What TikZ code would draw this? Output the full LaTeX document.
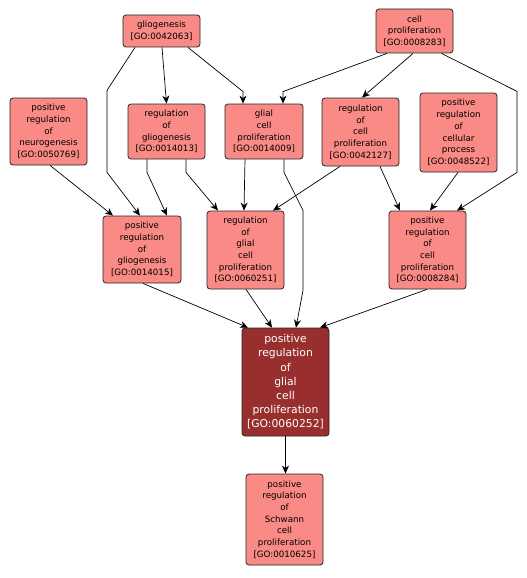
\documentclass[tikz,border=0pt]{standalone}
\usepackage{fontspec}
\setmainfont{DejaVu Sans}
\usetikzlibrary{arrows.meta,calc}
\definecolor{gofill}{RGB}{250,138,133}
\definecolor{gomain}{RGB}{153,46,46}
\begin{document}
\begin{tikzpicture}[x=1pt,y=-1pt,
  gonode/.style={draw=black!85,fill=gofill,rounded corners=3pt,inner sep=0pt,align=center,
    font=\fontsize{8.7}{11.7}\selectfont,line width=0.8pt},
  mainnode/.style={gonode,fill=gomain,text=white,font=\fontsize{10.8}{14.2}\selectfont},
  edge/.style={draw=black,line width=0.7pt,-{Stealth[length=8pt,width=7pt,inset=2.5pt]}}]
\useasboundingbox[fill=white] (0,0) rectangle (527,578);
\newcommand{\gnode}[6]{\node[#1,minimum width=#4pt,minimum height=#5pt] (#2) at (#3) {#6};}
\gnode{gonode}{glio}{161.5,31}{77}{32}{gliogenesis\\{[GO:0042063]}}
\gnode{gonode}{neuro}{48.5,131.5}{77}{67}{positive\\regulation\\of\\neurogenesis\\{[GO:0050769]}}
\gnode{gonode}{reggl}{166.5,131.5}{77}{55}{regulation\\of\\gliogenesis\\{[GO:0014013]}}
\gnode{gonode}{gcp}{264,131.5}{78}{55}{glial\\cell\\proliferation\\{[GO:0014009]}}
\gnode{gonode}{cp}{414.5,31}{77}{44}{cell\\proliferation\\{[GO:0008283]}}
\gnode{gonode}{rcp}{360.5,132}{77}{68}{regulation\\of\\cell\\proliferation\\{[GO:0042127]}}
\gnode{gonode}{prcpr}{458.5,132.5}{77}{79}{positive\\regulation\\of\\cellular\\process\\{[GO:0048522]}}
\gnode{gonode}{prgl}{142,249.5}{78}{67}{positive\\regulation\\of\\gliogenesis\\{[GO:0014015]}}
\gnode{gonode}{rgcp}{245.5,250}{77}{78}{regulation\\of\\glial\\cell\\proliferation\\{[GO:0060251]}}
\gnode{gonode}{prcp}{427.5,250}{77}{78}{positive\\regulation\\of\\cell\\proliferation\\{[GO:0008284]}}
\gnode{mainnode}{main}{285.5,382}{87}{108}{positive\\regulation\\of\\glial\\cell\\proliferation\\{[GO:0060252]}}
\gnode{gonode}{schw}{284.5,519.5}{77}{91}{positive\\regulation\\of\\Schwann\\cell\\proliferation\\{[GO:0010625]}}
% edges
\draw[edge] ($(glio.south)+(0.5,0)$) -- ($(reggl.north)+(0,0)$);
\draw[edge] ($(glio.south)+(26.5,0)$) -- ($(gcp.north)+(-21,-12)$) -- ($(gcp.north)+(-21,0)$);
\draw[edge] ($(glio.south)+(-26.5,0)$) -- ($(glio.south)+(-54.5,43)$) -- ($(glio.south)+(-54.5,125)$) -- ($(prgl.north)+(-2,0)$);
\draw[edge] ($(neuro.south)+(1.5,0)$) -- ($(prgl.north)+(-29,0)$);
\draw[edge] ($(reggl.south)+(-19.5,0)$) -- ($(reggl.south)+(-19.5,13)$) -- ($(prgl.north)+(25,0)$);
\draw[edge] ($(reggl.south)+(19.5,0)$) -- ($(reggl.south)+(19.5,13)$) -- ($(rgcp.north)+(-27.5,0)$);
\draw[edge] ($(gcp.south)+(-19,0)$) -- ($(rgcp.north)+(-1.5,0)$);
\draw[edge] ($(gcp.south)+(20,0)$) -- ($(gcp.south)+(20,13)$) -- ($(gcp.south)+(39,51)$) -- ($(gcp.south)+(39,131)$) -- ($(main.north)+(10.5,0)$);
\draw[edge] ($(cp.south)+(-27.5,0)$) -- ($(gcp.north)+(19,-12)$) -- ($(gcp.north)+(19,0)$);
\draw[edge] ($(cp.south)+(-1.5,0)$) -- ($(rcp.north)+(1.5,0)$);
\draw[edge] ($(cp.south)+(27,0)$) -- ($(cp.south)+(102.5,38)$) -- ($(cp.south)+(102.5,119)$) -- ($(prcp.north)+(29.5,0)$);
\draw[edge] ($(rcp.south)+(-20.5,0)$) -- ($(rgcp.north)+(27.5,0)$);
\draw[edge] ($(rcp.south)+(19.5,0)$) -- ($(prcp.north)+(-27.5,0)$);
\draw[edge] ($(prcpr.south)+(-0.5,0)$) -- ($(prcp.north)+(2.5,0)$);
\draw[edge] ($(prgl.south)+(1,0)$) -- ($(main.north)+(-37.5,0)$);
\draw[edge] ($(rgcp.south)+(0.5,0)$) -- ($(main.north)+(-13.5,0)$);
\draw[edge] ($(prcp.south)+(-0.5,0)$) -- ($(main.north)+(34.5,0)$);
\draw[edge] (main.south) -- ($(schw.north)+(1,0)$);
\end{tikzpicture}
\end{document}
